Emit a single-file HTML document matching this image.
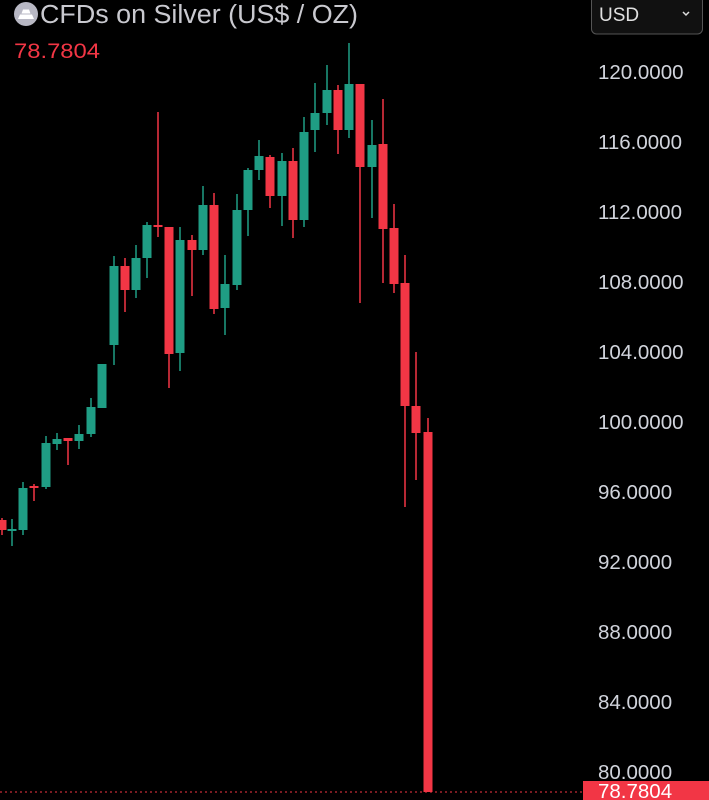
<!DOCTYPE html>
<html><head><meta charset="utf-8"><style>
html,body{margin:0;padding:0;background:#000;width:709px;height:800px;overflow:hidden}
svg{display:block}
text{font-family:"Liberation Sans",sans-serif}
</style></head><body>
<svg width="709" height="800" viewBox="0 0 709 800">
<rect width="709" height="800" fill="#000"/>
<g id="c"></g>
<g fill="#d1d4dc" font-size="20.5">
<text x="598" y="79">120.0000</text>
<text x="598" y="149">116.0000</text>
<text x="598" y="219">112.0000</text>
<text x="598" y="289">108.0000</text>
<text x="598" y="359">104.0000</text>
<text x="598" y="429">100.0000</text>
<text x="598" y="499">96.0000</text>
<text x="598" y="569">92.0000</text>
<text x="598" y="639">88.0000</text>
<text x="598" y="709">84.0000</text>
<text x="598" y="779">80.0000</text>
</g>
<line x1="0" y1="792" x2="583" y2="792" stroke="#f23645" stroke-width="1" stroke-dasharray="2,3"/>
<rect x="583" y="781" width="126" height="19" fill="#f23645"/>
<text x="598" y="798" fill="#fff" font-size="20.5">78.7804</text>
<circle cx="26" cy="14" r="12" fill="#b8b8c4"/>
<path d="M18 19 h16 l-2 -4.5 h-12 z M21.5 13.5 h9 l-1.5 -4 h-6 z" fill="#fff"/>
<text x="40" y="23" fill="#c9c9cf" font-size="25.5" textLength="318" lengthAdjust="spacingAndGlyphs">CFDs on Silver (US$ / OZ)</text>
<text x="14" y="58" fill="#f23645" font-size="21" textLength="86" lengthAdjust="spacingAndGlyphs">78.7804</text>
<rect x="591.5" y="-4" width="111" height="38" rx="5" fill="#111" stroke="#555"/>
<text x="599" y="21" fill="#e0e0e0" font-size="19">USD</text>
<path d="M683 12 l3 3 l3 -3" stroke="#ddd" stroke-width="1.5" fill="none"/>
</svg>
<script>
var d=[[2,'r',520,530,518,535],[12,'g',529,531,519,546],[23,'g',488,530,482,535],[34,'r',486,488,484,501],[46,'g',443,487,436,489],[57,'g',439,444,433,450],[68,'r',438,441,438,465],[79,'g',434,441,425,449],[91,'g',407,434,398,437],[102,'g',364,408,364,408],[114,'g',266,345,256,365],[125,'r',266,290,258,312],[136,'g',258,290,245,298],[147,'g',225,258,222,278],[158,'r',225,227,112,237],[169,'r',227,354,227,388],[180,'g',240,353,227,371],[192,'r',240,250,235,296],[203,'g',205,250,186,255],[214,'r',205,309,193,314],[225,'g',284,308,255,335],[237,'g',210,285,194,290],[248,'g',170,210,168,236],[259,'g',156,170,140,180],[270,'r',157,196,155,208],[282,'g',161,196,153,226],[293,'r',161,220,148,238],[304,'g',132,220,117,227],[315,'g',113,130,83,152],[327,'g',90,113,65,125],[338,'r',90,130,85,154],[349,'g',84,130,43,138],[360,'r',84,167,84,303],[372,'g',145,167,120,218],[383,'r',144,229,99,283],[394,'r',228,284,204,293],[405,'r',283,406,255,507],[416,'r',406,433,352,480],[428,'r',432,792,418,792]];
var s='';d.forEach(function(c){var col=c[1]=='g'?'#1f9d84':'#f23645';
s+='<rect x="'+(c[0]-0.75)+'" y="'+c[4]+'" width="1.5" height="'+(c[5]-c[4])+'" fill="'+col+'"/>';
s+='<rect x="'+(c[0]-4.5)+'" y="'+c[2]+'" width="9" height="'+Math.max(2,c[3]-c[2])+'" fill="'+col+'"/>';});
document.getElementById('c').innerHTML=s;
</script>
</body></html>
